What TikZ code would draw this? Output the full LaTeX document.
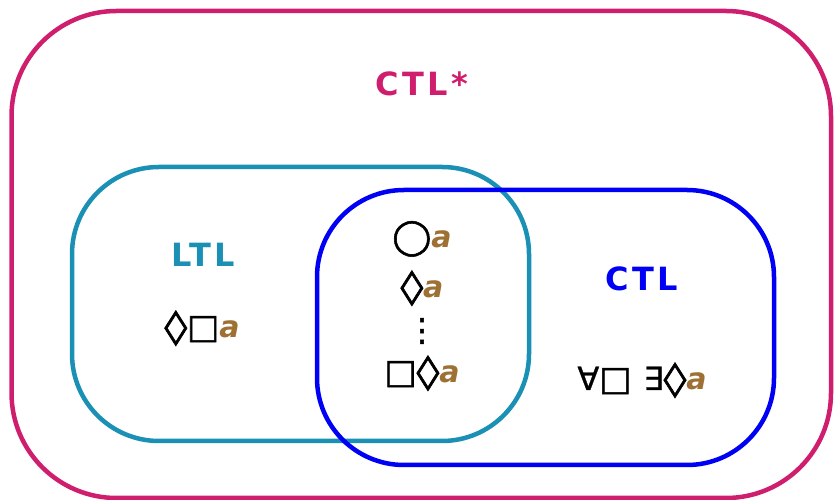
\documentclass[tikz,border=0pt]{standalone}
\usepackage{fontspec}
\usepackage{graphicx}
\setmainfont{DejaVu Sans}
\newfontfamily\symfont[FakeBold=1.6]{DejaVu Sans}
\newfontfamily\qfont[FakeBold=0.8]{DejaVu Sans}
\newfontfamily\titlefont[LetterSpace=10]{DejaVu Sans Bold}
\definecolor{ctlstar}{RGB}{208,30,110}
\definecolor{ltlcol}{RGB}{26,144,180}
\definecolor{ctlcol}{RGB}{0,0,245}
\definecolor{propcol}{RGB}{158,112,52}
\begin{document}
\begin{tikzpicture}[x=1pt,y=1pt,
  setbox/.style={draw, line width=4.5pt, rounded corners=#1, inner sep=0pt, shape=rectangle},
  title/.style={font=\fontsize{32}{38}\titlefont, anchor=base, inner sep=0pt},
  formula/.style={font=\fontsize{30}{36}\selectfont, anchor=base, inner sep=0pt},
]
\useasboundingbox (0,0) rectangle (835,500);
\node[setbox=105pt, ctlstar, minimum width=819.5pt, minimum height=487pt] (outer) at (421.25,245.5) {};
\node[setbox=87pt, ltlcol, minimum width=457pt, minimum height=274pt] (ltl) at (300.5,196) {};
\node[setbox=87pt, ctlcol, minimum width=457pt, minimum height=275pt] (ctl) at (545.5,172.5) {};
\newcommand{\prop}{\textcolor{propcol}{\textbf{\textit{a}}}}
\newcommand{\myDia}{{\fontsize{34}{40}\symfont\scalebox{1.35}[1]{◊}}}
\newcommand{\myBox}{{\fontsize{34}{40}\symfont □}}
\newcommand{\myNxt}{{\fontsize{35}{40}\symfont ◯}}
\newcommand{\myQ}[1]{{\fontsize{32}{40}\qfont #1}}
\node[title, text=ctlstar] (tstar) at (422,404) {CTL*};
\node[title, text=ltlcol] (tltl) at (203,233) {LTL};
\node[title, text=ctlcol] (tctl) at (642,209) {CTL};
\node[formula] (f1) at (202,162) {\myDia\myBox\prop};
\node[formula] (f2) at (422,252) {\myNxt\prop};
\node[formula] (f3) at (422,202) {\myDia\prop};
\node[formula] (f4) at (422,159) {{\fontsize{32}{40}\symfont ⋮}};
\node[formula] (f5) at (422,117) {\myBox\myDia\prop};
\node[formula] (f6) at (642,110) {\myQ{∀}\myBox\hspace{12pt}\myQ{∃}\myDia\prop};
\end{tikzpicture}
\end{document}
